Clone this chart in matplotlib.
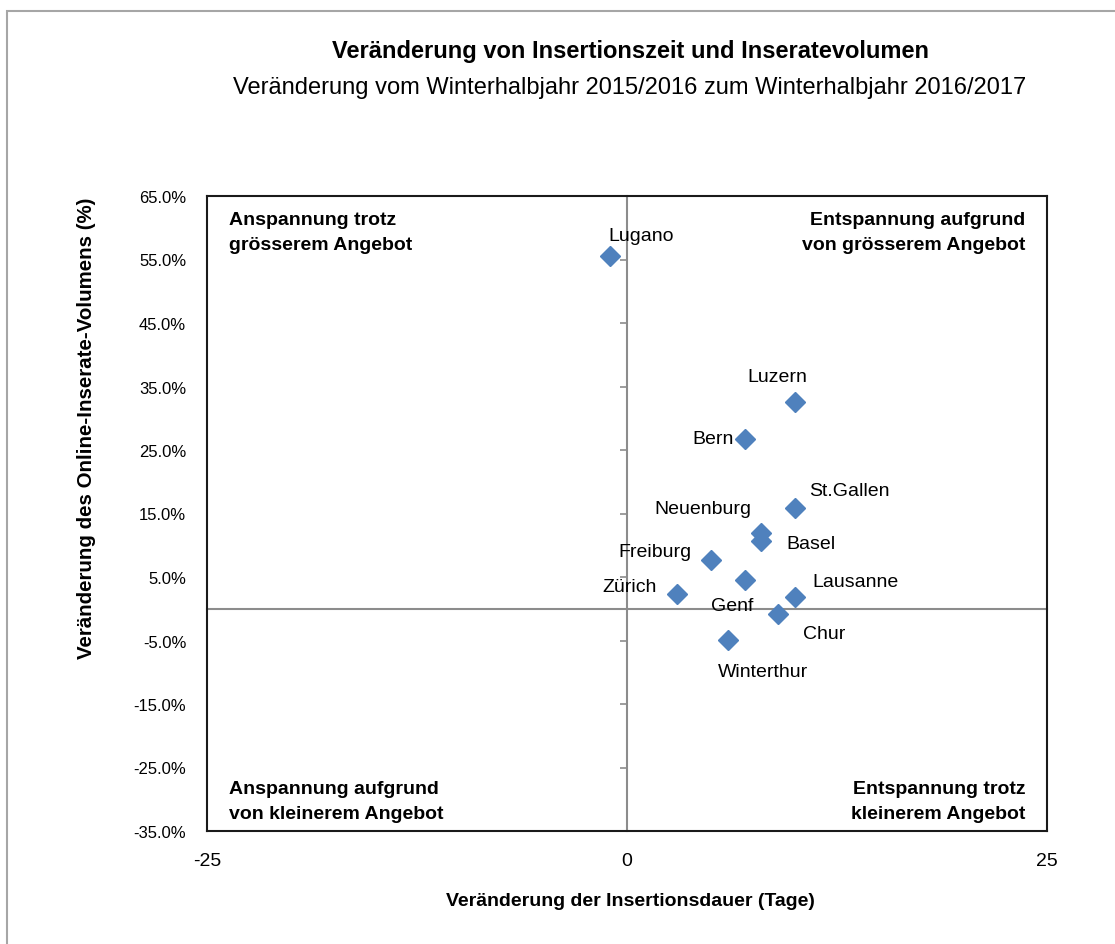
import numpy as np
import matplotlib
matplotlib.use("Agg")
import matplotlib.pyplot as plt
from matplotlib.patches import Rectangle

# Veränderung Insertionsdauer (Tage) vs. Veränderung Inseratevolumen (%)
cities = ["Lugano", "Luzern", "Bern", "St.Gallen", "Neuenburg", "Basel",
          "Freiburg", "Genf", "Zürich", "Lausanne", "Chur", "Winterthur"]
days_change = [-1.0, 10.0, 7.0, 10.0, 8.0, 8.0, 5.0, 7.0, 3.0, 10.0, 9.0, 6.0]
volume_change = [55.6, 32.6, 26.7, 15.9, 11.9, 10.7, 7.6, 4.5, 2.4, 1.8, -0.9, -4.9]

x_ticks = [-25, 0, 25]
y_ticks = [-35, -25, -15, -5, 5, 15, 25, 35, 45, 55, 65]

# label offsets in pixels (dx, dy), hand placed like in the original
label_offsets = [(31, 20), (-18, 25), (-32, 1), (54, 17), (-59, 25), (50, -3),
                 (-56, 9), (-12, -25), (-48, 7), (60, 16), (46, -19), (35, -32)]

plt.rcParams["font.family"] = ["Liberation Sans", "DejaVu Sans"]
plt.rcParams["axes.unicode_minus"] = False

W, H = 1115, 945
fig = plt.figure(figsize=(W / 100, H / 100), dpi=100)
ax = fig.add_axes([207 / W, 1 - 832 / H, 840 / W, 635 / H])

ax.set_xlim(-25, 25)
ax.set_ylim(-35, 65)

# zero lines with their own ticks (Excel axes crossing at 0)
gray = "#8c8c8c"
y0 = (0 - ax.get_ylim()[0]) / (ax.get_ylim()[1] - ax.get_ylim()[0])
x0 = (0 - ax.get_xlim()[0]) / (ax.get_xlim()[1] - ax.get_xlim()[0])
sec_y = ax.secondary_yaxis(x0)
sec_y.set_alignment("left")
sec_y.set_yticks(y_ticks)
sec_y.tick_params(labelleft=False, labelright=False, length=5, width=1.2, color=gray)
sec_y.spines["left"].set_color(gray)
sec_y.spines["left"].set_linewidth(1.5)
sec_x = ax.secondary_xaxis(y0)
sec_x.set_alignment("bottom")
sec_x.set_xticks(x_ticks)
sec_x.tick_params(labelbottom=False, labeltop=False, length=5, width=1.2, color=gray)
sec_x.spines["bottom"].set_color(gray)
sec_x.spines["bottom"].set_linewidth(1.5)

ax.plot(days_change, volume_change, linestyle="none", marker="D",
        markersize=10, color="#4F81BD", zorder=5)

for name, x, y, (dx, dy) in zip(cities, days_change, volume_change, label_offsets):
    ax.annotate(name, (x, y), xytext=(dx, dy), textcoords="offset pixels",
                ha="center", va="center", fontsize=14)

ax.set_xticks(x_ticks)
ax.set_yticks(y_ticks)
ax.set_yticklabels([f"{v:.1f}%" for v in y_ticks])
ax.tick_params(axis="y", length=0, pad=15, labelsize=12)
ax.tick_params(axis="x", length=0, pad=15, labelsize=14)
for sp in ax.spines.values():
    sp.set_color("#1a1a1a")
    sp.set_linewidth(1.5)

qkw = dict(transform=ax.transAxes, fontsize=14, fontweight="bold", linespacing=1.6)
ax.text(0.026, 0.976, "Anspannung trotz\ngrösserem Angebot", ha="left", va="top", **qkw)
ax.text(0.974, 0.976, "Entspannung aufgrund\nvon grösserem Angebot", ha="right", va="top",
        multialignment="right", **qkw)
ax.text(0.026, 0.014, "Anspannung aufgrund\nvon kleinerem Angebot", ha="left", va="bottom", **qkw)
ax.text(0.974, 0.014, "Entspannung trotz\nkleinerem Angebot", ha="right", va="bottom",
        multialignment="right", **qkw)

fig.text(631 / W, 1 - 58 / H, "Veränderung von Insertionszeit und Inseratevolumen",
         ha="center", va="baseline", fontsize=17, fontweight="bold")
fig.text(630 / W, 1 - 94 / H,
         "Veränderung vom Winterhalbjahr 2015/2016 zum Winterhalbjahr 2016/2017",
         ha="center", va="baseline", fontsize=17)

fig.text(630 / W, 1 - 906 / H, "Veränderung der Insertionsdauer (Tage)",
         ha="center", va="baseline", fontsize=14, fontweight="bold")
fig.text(87 / W, 1 - 428 / H, "Veränderung des Online-Inserate-Volumens (%)",
         ha="center", va="center", rotation=90, fontsize=14.8, fontweight="bold")

# grey chart-area border
fig.patches.append(Rectangle((7 / W, -0.05), 1.2, 1 - 12 / H + 0.05,
                             transform=fig.transFigure, fill=False,
                             edgecolor="#a6a6a6", linewidth=1.5))

fig.savefig("out.png", dpi=100)
